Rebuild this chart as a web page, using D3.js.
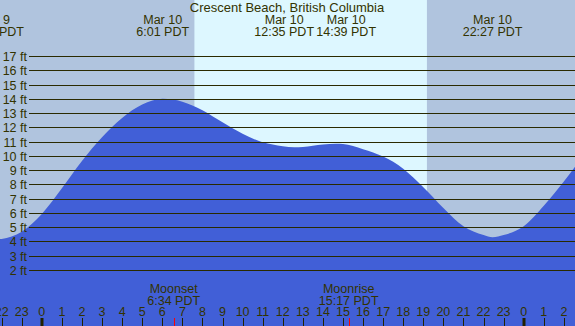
<!DOCTYPE html>
<html><head><meta charset="utf-8">
<script src="https://cdn.jsdelivr.net/npm/d3@7"></script>
<style>html,body{margin:0;padding:0;overflow:hidden;background:#b0c4de}svg{display:block}text{font-family:"Liberation Sans",Arial,sans-serif;font-size:12.5px;fill:#333300}</style>
</head><body>
<script>
// ---- data (hours relative to Mar 10 00:00 PDT) ----
const title = "Crescent Beach, British Columbia";
const tideTimes   = [-3, -2.38, -2, -1, 0, 1, 2, 3, 4, 5, 6.02, 7, 8, 9, 10, 11, 12, 12.58, 13, 14, 14.65, 15, 16, 17, 18, 19, 20, 21, 22, 22.45, 23, 24, 25, 26, 27];
const tideHeights = [4.2, 4.15, 4.18, 4.68, 5.93, 7.73, 9.64, 11.3, 12.66, 13.6, 14.0, 13.8, 13.2, 12.35, 11.55, 10.95, 10.68, 10.6, 10.63, 10.8, 10.85, 10.83, 10.47, 9.95, 9.1, 7.8, 6.35, 5.06, 4.45, 4.3, 4.45, 5.06, 6.5, 8.2, 10.1];
const extremeTimes = [-2.38, 6.02, 12.58, 14.65, 22.45];
const extremeDates = ["Mar 9", "Mar 10", "Mar 10", "Mar 10", "Mar 10"];
const extremeLabels = ["21:37 PDT", "6:01 PDT", "12:35 PDT", "14:39 PDT", "22:27 PDT"];
const sunrise = 7.6, sunset = 19.18;
const moonTimes = [6.567, 15.283];
const moonNames = ["Moonset", "Moonrise"];
const moonLabels = ["6:34 PDT", "15:17 PDT"];
const ftTicks = [2,3,4,5,6,7,8,9,10,11,12,13,14,15,16,17];
const hourTicks = d3.range(-3, 28);

const W = 575, H = 326;
const x = d3.scaleLinear().domain([0, 24]).range([41.8, 523.7]);
const y = d3.scaleLinear().domain([2, 17]).range([270, 56]);

const svg = d3.select("body").append("svg").attr("width", W).attr("height", H);
svg.append("rect").attr("width", W).attr("height", H).attr("fill", "#b0c4de");
svg.append("rect").attr("x", x(sunrise)).attr("y", 0).attr("width", x(sunset) - x(sunrise)).attr("height", H).attr("fill", "#ddf7ff");

const pts = tideTimes.map((t, i) => [t, tideHeights[i]]);
const area = d3.area().x(d => x(d[0])).y0(H).y1(d => y(d[1])).curve(d3.curveMonotoneX);
svg.append("path").datum(pts).attr("d", area).attr("fill", "#415fd7");

// grid lines + labels
ftTicks.forEach(f => {
  const yy = Math.round(y(f)) + 0.5;
  svg.append("line").attr("x1", 29).attr("x2", W).attr("y1", yy).attr("y2", yy)
    .attr("stroke", "#2a2a00").attr("stroke-width", 1.2);
  svg.append("text").attr("x", 27).attr("y", yy + 4.5).attr("text-anchor", "end").text(f + " ft");
});

// title
svg.append("text").attr("x", 287).attr("y", 12).attr("text-anchor", "middle").style("font-size", "13px").text(title);

// extreme labels with simple overlap separation
const lx = extremeTimes.map(t => x(t));
for (let i = 1; i < lx.length; i++) {
  const gap = lx[i] - lx[i - 1], need = 62;
  if (gap < need) { const push = (need - gap) / 2; lx[i - 1] -= push; lx[i] += push; }
}
extremeTimes.forEach((t, i) => {
  svg.append("text").attr("x", lx[i]).attr("y", 24).attr("text-anchor", "middle").text(extremeDates[i]);
  svg.append("text").attr("x", lx[i]).attr("y", 35.5).attr("text-anchor", "middle").text(extremeLabels[i]);
});

// moon labels
moonTimes.forEach((t, i) => {
  svg.append("text").attr("x", x(t)).attr("y", 293).attr("text-anchor", "middle").text(moonNames[i]);
  svg.append("text").attr("x", x(t)).attr("y", 305).attr("text-anchor", "middle").text(moonLabels[i]);
  svg.append("line").attr("x1", Math.round(x(t)) + 0.5).attr("x2", Math.round(x(t)) + 0.5)
    .attr("y1", 318).attr("y2", H).attr("stroke", "#ff0000").attr("stroke-width", 1);
});

// hour ticks
hourTicks.forEach(h => {
  const hh = ((h % 24) + 24) % 24;
  const xx = x(h);
  svg.append("text").attr("x", xx).attr("y", 316).attr("text-anchor", "middle").text(hh);
  const mid = hh === 0;
  svg.append("line").attr("x1", Math.round(xx) + (mid ? 0 : 0.5)).attr("x2", Math.round(xx) + (mid ? 0 : 0.5))
    .attr("y1", 318).attr("y2", H).attr("stroke", "#222200").attr("stroke-width", mid ? 3 : 1);
});
</script>
</body></html>
